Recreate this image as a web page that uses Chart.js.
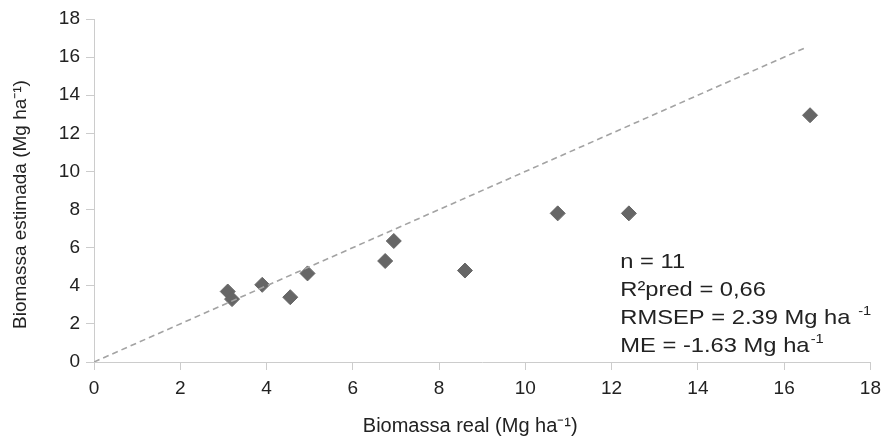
<!DOCTYPE html>
<html>
<head>
<meta charset="utf-8">
<script src="https://cdn.jsdelivr.net/npm/chart.js@4.4.0/dist/chart.umd.min.js"></script>
<style>
  html, body { margin:0; padding:0; background:#fff; }
  #wrap { width:888px; height:436px; }
</style>
</head>
<body>
<div id="wrap"><canvas id="chart" width="888" height="436"></canvas></div>
<script>
// Biomassa real (x) vs estimada (y), Mg ha-1
const realValues = [3.1, 3.2, 3.9, 4.55, 4.95, 6.75, 6.95, 8.6, 10.75, 12.4, 16.6];
const estValues  = [3.7, 3.3, 4.05, 3.4, 4.65, 5.3, 6.35, 4.8, 7.8, 7.8, 12.95];
const lineX = [0, 16.5];
const lineY = [0, 16.5];
const axisTicks = [0, 2, 4, 6, 8, 10, 12, 14, 16, 18];
const xTitle = 'Biomassa real (Mg ha⁻¹)';
const yTitle = 'Biomassa estimada (Mg ha⁻¹)';
const statsLines = [
  {text:'n = 11', sup:''},
  {text:'R²pred = 0,66', sup:''},
  {text:'RMSEP = 2.39 Mg ha ', sup:'-1'},
  {text:'ME = -1.63 Mg ha', sup:'-1'}
];
const statsAnchor = {x: 12.2, y: 4.95};

const FONT = "'Liberation Sans', Arial, sans-serif";
const axisColor = '#cccccc';
const textColor = '#222222';

// texto das estatísticas + títulos dos eixos
const statsPlugin = {
  id:'stats',
  afterDatasetsDraw(chart){
    const {ctx, scales} = chart;
    const x0 = scales.x.getPixelForValue(statsAnchor.x);
    let y = scales.y.getPixelForValue(statsAnchor.y);
    ctx.save();
    ctx.fillStyle = textColor;
    ctx.textBaseline = 'alphabetic';
    ctx.textAlign = 'left';
    statsLines.forEach(l=>{
      ctx.save();
      ctx.translate(x0, y);
      ctx.scale(1.13, 1);
      ctx.font = '21px ' + FONT;
      ctx.fillText(l.text, 0, 0);
      if(l.sup){
        const w = ctx.measureText(l.text).width;
        ctx.font = '13px ' + FONT;
        ctx.fillText(l.sup, w + 1, -9);
      }
      ctx.restore();
      y += 28.2;
    });

    // títulos
    ctx.font = '20px ' + FONT;
    ctx.textAlign = 'center';
    const xc = (scales.x.left + scales.x.right) / 2 - 12;
    ctx.fillText(xTitle, xc, chart.height - 4);

    ctx.font = '19px ' + FONT;
    ctx.translate(21, (scales.y.top + scales.y.bottom) / 2 + 14);
    ctx.rotate(-Math.PI / 2);
    ctx.textBaseline = 'middle';
    ctx.fillText(yTitle, 0, 0);
    ctx.restore();
  }
};

const points = realValues.map((v,i)=>({x:v, y:estValues[i]}));
const linePts = lineX.map((v,i)=>({x:v, y:lineY[i]}));

new Chart(document.getElementById('chart'), {
  type:'scatter',
  data:{
    datasets:[
      {
        label:'1:1',
        type:'line',
        data: linePts,
        borderColor:'#a3a3a3',
        borderWidth:1.6,
        borderDash:[6,4],
        pointRadius:0,
        fill:false
      },
      {
        label:'Biomassa',
        data: points,
        pointStyle:'rectRot',
        pointRadius:7.5,
        pointHoverRadius:7.5,
        backgroundColor:'#666666',
        borderColor:'#666666',
        borderWidth:1
      }
    ]
  },
  options:{
    responsive:false,
    animation:false,
    layout:{padding:{top:19, right:15, left:0, bottom:0}},
    plugins:{legend:{display:false}, tooltip:{enabled:false}},
    scales:{
      x:{
        type:'linear', min:0, max:18,
        afterBuildTicks: s => { s.ticks = axisTicks.map(v=>({value:v})); },
        afterFit: s => { s.height = 74; },
        border:{color:axisColor, width:1},
        grid:{drawOnChartArea:false, color:axisColor, tickLength:8},
        ticks:{color:textColor, font:{family:FONT, size:19}, padding:7},
        title:{display:false}
      },
      y:{
        type:'linear', min:0, max:18,
        afterBuildTicks: s => { s.ticks = axisTicks.map(v=>({value:v})); },
        afterFit: s => { s.width = 94; },
        border:{color:axisColor, width:1},
        grid:{drawOnChartArea:false, color:axisColor, tickLength:8},
        ticks:{color:textColor, font:{family:FONT, size:19}, padding:6},
        title:{display:false}
      }
    }
  },
  plugins:[statsPlugin]
});
</script>
</body>
</html>
